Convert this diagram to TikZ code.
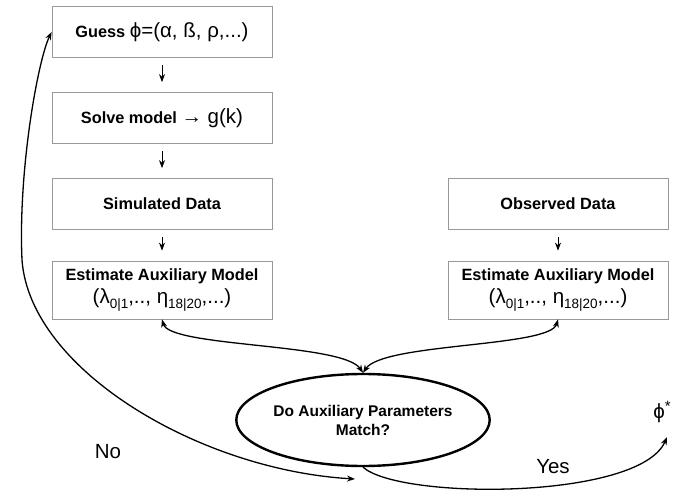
\documentclass[tikz,border=0pt]{standalone}
\usepackage{fontspec}
\setmainfont{Liberation Sans}
\usetikzlibrary{arrows.meta,shapes.geometric}
\newcommand{\grk}[1]{{\fontsize{20.5}{22}\selectfont\mdseries #1}}
\newcommand{\lsub}[1]{\raisebox{-0.45ex}{\fontsize{13.5}{13.5}\selectfont #1}}

\begin{document}
\begin{tikzpicture}[x=1pt,y=-1pt,>={Stealth[length=8pt,width=6pt]},auto,node distance=86pt,
    box/.style={draw=gray!80,line width=0.8pt,minimum width=220pt,minimum height=51pt,
                inner sep=2pt,align=center,font=\fontsize{16.3}{18}\selectfont\bfseries},
    decision/.style={ellipse,draw,line width=2.4pt,minimum width=220pt,minimum height=92pt,
                inner sep=0pt,align=center,font=\fontsize{15.5}{19}\selectfont\bfseries},
    flow/.style={->,line width=0.8pt,shorten >=10pt,shorten <=7pt},
    loop/.style={line width=1.3pt}]
  \useasboundingbox (0,0) rectangle (678,495);

  \node[box]  (guess) at (162,32)     {Guess \grk{ϕ=(α, ß, ρ,...)}};
  \node[box]  (solve) [below of=guess] {Solve model \grk{→ g(k)}};
  \node[box]  (sim)   [below of=solve] {Simulated Data};
  \node[box,minimum height=58pt] (estsim) [below of=sim]
              {Estimate Auxiliary Model\\[3pt]\grk{(λ\lsub{0|1},.., η\lsub{18|20},...)}};
  \node[box]  (obs)   [right of=sim,node distance=396pt] {Observed Data};
  \node[box,minimum height=58pt] (estobs) [below of=obs]
              {Estimate Auxiliary Model\\[3pt]\grk{(λ\lsub{0|1},.., η\lsub{18|20},...)}};
  \node[decision] (match) at (363,420) {Do Auxiliary Parameters\\Match?};
  \node (phistar) at (662,412) {\grk{ϕ\raisebox{0.7ex}{\fontsize{15}{15}\selectfont *}}};
  \node (no)  at (108,452) {\grk{No}};
  \node (yes) at (553,467) {\grk{Yes}};
  \coordinate (noend)  at (355,479);
  \coordinate (yesend) at (667,437);

  \path[flow]
        (guess) edge (solve)
        (solve) edge (sim)
        (sim)   edge (estsim)
        (obs)   edge (estobs);

  \draw[loop,<->] (estsim.south) .. controls +(8,28) and +(-20,-30) .. (match.north);
  \draw[loop,<->] (estobs.south) .. controls +(-8,28) and +(20,-30) .. (match.north);
  \draw[loop,<->] (guess.west) .. controls (38,60) and (18,170) .. (22,260)
                   .. controls (30,370) and (200,470) .. (noend);
  \draw[loop,->] (match.south) .. controls (400,500) and (640,500) .. (yesend);
\end{tikzpicture}
\end{document}
